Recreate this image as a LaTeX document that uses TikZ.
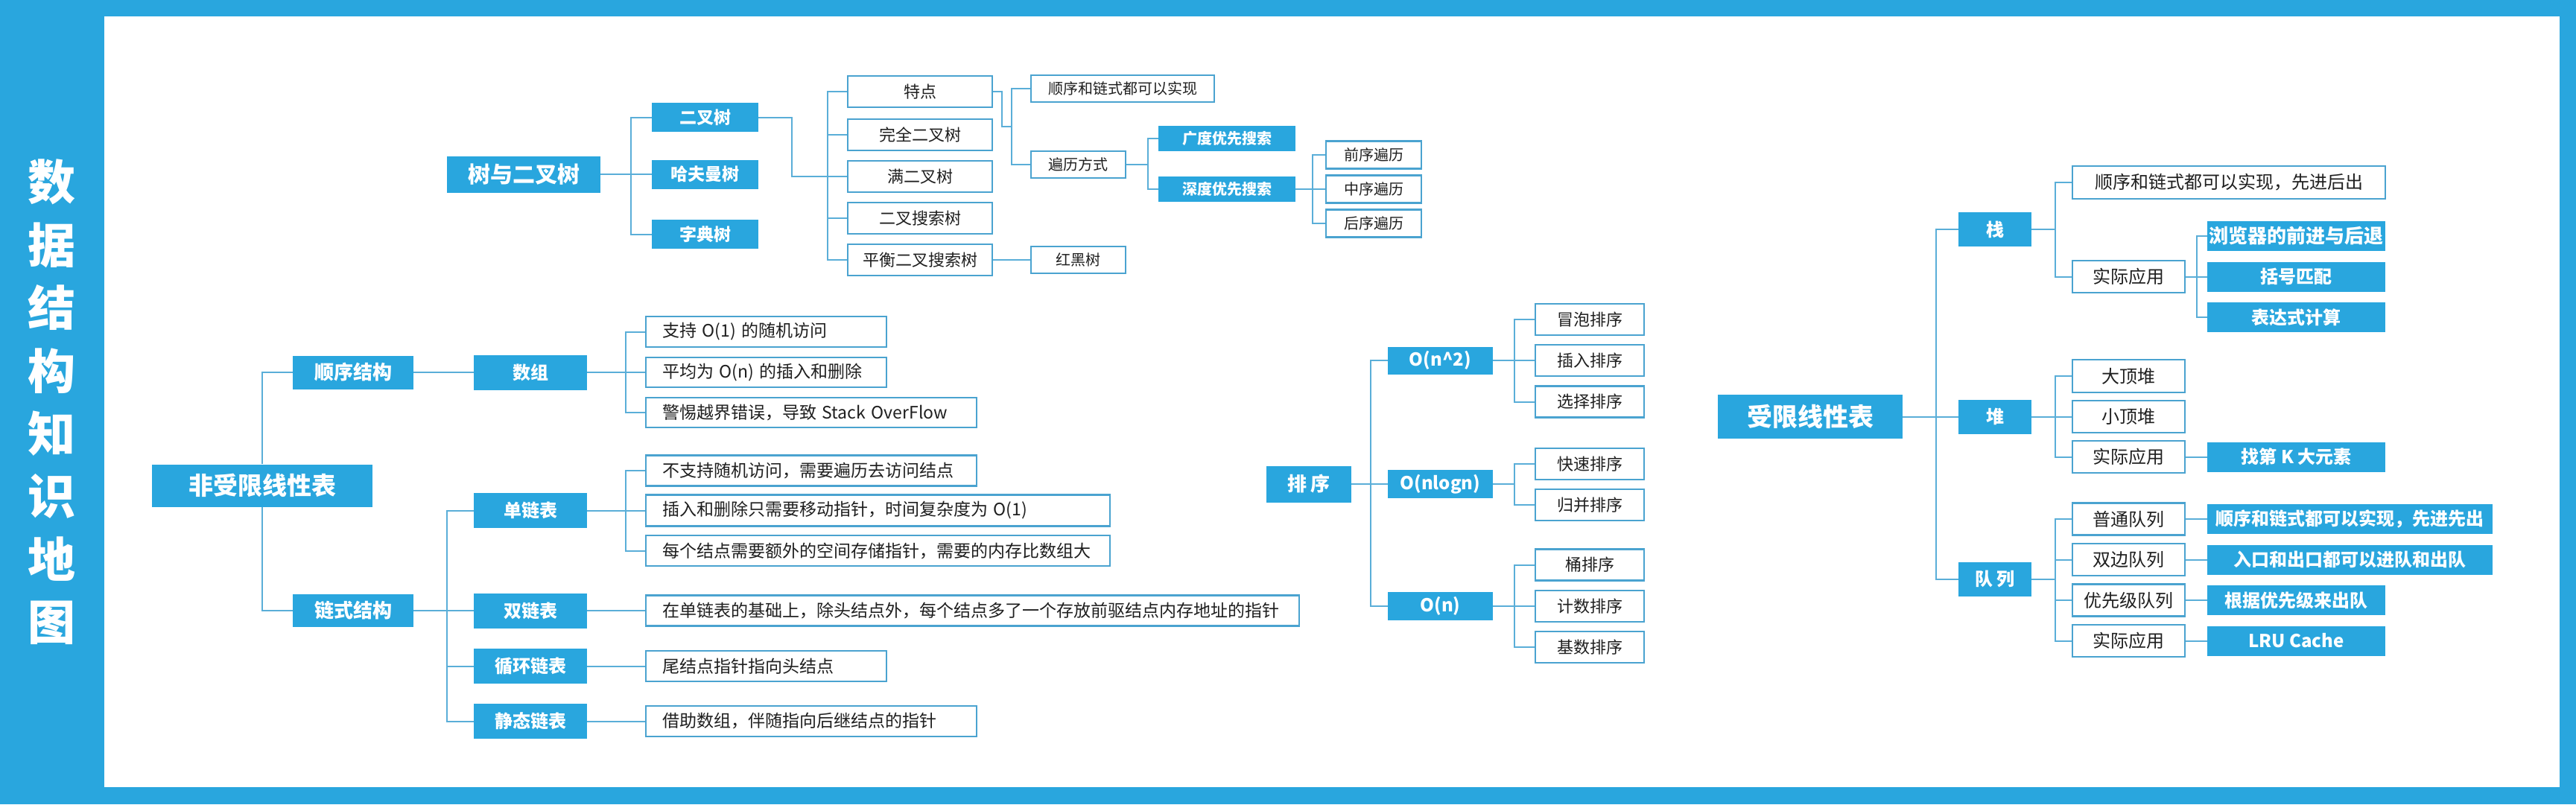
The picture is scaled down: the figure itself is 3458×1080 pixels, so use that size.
\documentclass[tikz,border=0pt]{standalone}
\usepackage{fontspec}
\newfontfamily\cjk{Noto Sans CJK SC}
\pgfdeclarelayer{bg}
\pgfdeclarelayer{lines}
\pgfsetlayers{bg,lines,main}
\definecolor{mblue}{HTML}{29A6DE}
\definecolor{cline}{HTML}{5AAED8}
\definecolor{bline}{HTML}{4AA3D0}
\newcommand\myfs[1]{\fontsize{#1bp}{#1bp}\selectfont}
\tikzset{
  sz/.style 2 args={minimum width=#1bp, minimum height=#2bp},
  fb/.style={fill=mblue, text=white, inner sep=0pt, font=\cjk\bfseries\myfs{#1}},
  wb/.style={draw=bline, line width=2.2bp, fill=white, text=black!88, inner sep=0pt, font=\cjk\myfs{#1}},
  wl/.style={wb=#1, align=left, inner xsep=22bp},
  con/.style={draw=cline, line width=2bp},
}
\begin{document}
\begin{tikzpicture}[x=1bp,y=-1bp]
\begin{pgfonlayer}{bg}
\fill[mblue] (0,0) rectangle (3458,1080);
\fill[white] (140,22) rectangle (3436,1057);
\end{pgfonlayer}
\useasboundingbox (0,0) rectangle (3458,1080);

% title
\node[text=white, inner sep=0pt, align=center, font=\cjk\bfseries\fontsize{64bp}{84.4bp}\selectfont] (title) at (69,540) {数\\据\\结\\构\\知\\识\\地\\图};

% ---------- non-restricted linear list ----------
\node[fb=33, sz={296}{57}] (root1) at (352,652) {非受限线性表};
\node[fb=26, sz={162}{45}] (seq) at (474,500) {顺序结构};
\node[fb=26, sz={162}{44}] (link) at (474,820) {链式结构};
\node[fb=24, sz={152}{47}] (arr) at (712,500) {数组};
\node[fb=24, sz={152}{47}] (sll) at (712,685.5) {单链表};
\node[fb=24, sz={152}{47}] (dll) at (712,820) {双链表};
\node[fb=24, sz={152}{47}] (cll) at (712,894.5) {循环链表};
\node[fb=24, sz={152}{47}] (stl) at (712,968.5) {静态链表};

\node[wl=23, sz={323}{41}, text width=279bp] (a1) at (1028.5,445.5) {支持 O(1) 的随机访问};
\node[wl=23, sz={323}{40}, text width=279bp] (a2) at (1028.5,500) {平均为 O(n) 的插入和删除};
\node[wl=23, sz={444}{40}, text width=400bp] (a3) at (1089,554) {警惕越界错误，导致 Stack OverFlow};
\node[wl=23, sz={444}{41}, text width=400bp] (s1) at (1089,632) {不支持随机访问，需要遍历去访问结点};
\node[wl=23, sz={623}{42}, text width=579bp] (s2) at (1178.5,685.5) {插入和删除只需要移动指针，时间复杂度为 O(1)};
\node[wl=23, sz={623}{41}, text width=579bp] (s3) at (1178.5,739.5) {每个结点需要额外的空间存储指针，需要的内存比数组大};
\node[wl=23, sz={877}{41}, text width=833bp] (d1) at (1305.5,820) {在单链表的基础上，除头结点外，每个结点多了一个存放前驱结点内存地址的指针};
\node[wl=23, sz={323}{41}, text width=279bp] (c1) at (1028.5,894.5) {尾结点指针指向头结点};
\node[wl=23, sz={444}{41}, text width=400bp] (t1) at (1089,968.5) {借助数组，伴随指向后继结点的指针};

% ---------- trees ----------
\node[fb=30, sz={206}{49}] (tree) at (703,234) {树与二叉树};
\node[fb=23, sz={143}{39}] (bt) at (946.5,157.5) {二叉树};
\node[fb=23, sz={143}{39}] (huff) at (946.5,234) {哈夫曼树};
\node[fb=23, sz={143}{39}] (trie) at (946.5,314.5) {字典树};
\node[wb=22, sz={194}{42}] (tp) at (1235,123) {特点};
\node[wb=22, sz={194}{42}] (full) at (1235,181) {完全二叉树};
\node[wb=22, sz={194}{42}] (man) at (1235,237) {满二叉树};
\node[wb=22, sz={194}{42}] (bst) at (1235,293) {二叉搜索树};
\node[wb=22, sz={194}{42}] (avl) at (1235,349) {平衡二叉搜索树};
\node[wb=20, sz={246}{36}] (tr1) at (1507,119) {顺序和链式都可以实现};
\node[wb=20, sz={127}{36}] (trav) at (1447.5,221) {遍历方式};
\node[wb=20, sz={127}{36}] (rb) at (1447.5,349) {红黑树};
\node[fb=20, sz={184}{34}] (bfs) at (1647,186) {广度优先搜索};
\node[fb=20, sz={184}{34}] (dfs) at (1647,254) {深度优先搜索};
\node[wb=20, sz={128}{37}] (pre) at (1844,208) {前序遍历};
\node[wb=20, sz={128}{37}] (mid) at (1844,254) {中序遍历};
\node[wb=20, sz={128}{37}] (post) at (1844,300) {后序遍历};

% ---------- sorting ----------
\node[fb=26, sz={114}{49}] (sort) at (1757,650) {排\ 序};
\node[fb=24, sz={141}{37}] (on2) at (1933.5,484) {O(n\textasciicircum 2)};
\node[fb=24, sz={141}{38}] (onlogn) at (1933.5,650) {O(nlogn)};
\node[fb=24, sz={141}{38}] (on) at (1933.5,814) {O(n)};
\node[wb=22, sz={146}{42}] (bub) at (2134,429) {冒泡排序};
\node[wb=22, sz={146}{42}] (ins) at (2134,484) {插入排序};
\node[wb=22, sz={146}{42}] (sel) at (2134,539.5) {选择排序};
\node[wb=22, sz={146}{42}] (qs) at (2134,623) {快速排序};
\node[wb=22, sz={146}{42}] (ms) at (2134,678) {归并排序};
\node[wb=22, sz={146}{42}] (bkt) at (2134,758.5) {桶排序};
\node[wb=22, sz={146}{42}] (cnt) at (2134,814) {计数排序};
\node[wb=22, sz={146}{42}] (rad) at (2134,869) {基数排序};

% ---------- restricted linear list ----------
\node[fb=34, sz={248}{59}] (lim) at (2430,559.5) {受限线性表};
\node[fb=24, sz={98}{46}] (stk) at (2678,308) {栈};
\node[fb=24, sz={98}{46}] (hp) at (2678,559.5) {堆};
\node[fb=24, sz={98}{46}] (que) at (2678,778) {队\ 列};
\node[wb=24, sz={420}{44}] (sk1) at (2992,245) {顺序和链式都可以实现，先进后出};
\node[wb=24, sz={151}{43}] (skapp) at (2857.5,371.5) {实际应用};
\node[fb=26, sz={239}{40}] (browser) at (3082.5,317) {浏览器的前进与后退};
\node[fb=24, sz={239}{40}] (bracket) at (3082.5,371.5) {括号匹配};
\node[fb=24, sz={239}{40}] (expr) at (3082.5,426) {表达式计算};
\node[wb=24, sz={151}{44}] (big) at (2857.5,505) {大顶堆};
\node[wb=24, sz={151}{43}] (small) at (2857.5,559.5) {小顶堆};
\node[wb=24, sz={151}{43}] (hpapp) at (2857.5,613.5) {实际应用};
\node[fb=24, sz={239}{40}] (kth) at (3082.5,613.5) {找第 K 大元素};
\node[wb=24, sz={151}{43}] (q1) at (2857.5,697) {普通队列};
\node[wb=24, sz={151}{43}] (q2) at (2857.5,751.5) {双边队列};
\node[wb=24, sz={151}{43}] (q3) at (2857.5,806) {优先级队列};
\node[wb=24, sz={151}{43}] (qapp) at (2857.5,860.5) {实际应用};
\node[fb=24, sz={383}{40}] (q1r) at (3154.5,697) {顺序和链式都可以实现，先进先出};
\node[fb=24, sz={383}{40}] (q2r) at (3154.5,751.5) {入口和出口都可以进队和出队};
\node[fb=24, sz={239}{40}] (q3r) at (3082.5,806) {根据优先级来出队};
\node[fb=24, sz={239}{40}] (lru) at (3082.5,860.5) {LRU Cache};

% ---------- junctions ----------
\coordinate (jarr) at (840,500);
\coordinate (jlink) at (600,820);
\coordinate (jsll) at (840,685.5);
\coordinate (jtree) at (847,234);
\coordinate (jbt) at (1111,237);
\coordinate (jtp) at (1358,170);
\coordinate (jtrav) at (1541,221);
\coordinate (jdfs) at (1762,254);
\coordinate (jsort) at (1840,650);
\coordinate (jon2) at (2033,484);
\coordinate (jonl) at (2033,650);
\coordinate (jon) at (2033,814);
\coordinate (jlim) at (2599,559.5);
\coordinate (jstk) at (2759,308);
\coordinate (jsk) at (2949,371.5);
\coordinate (jhp) at (2759,559.5);
\coordinate (jque) at (2759,778);

\begin{pgfonlayer}{lines}
% non-restricted
\draw[con] (root1) |- (seq);
\draw[con] (root1) |- (link);
\draw[con] (seq) -- (arr);
\draw[con] (arr.east) -- (jarr);
\foreach \c in {a1,a2,a3} \draw[con] (jarr) |- (\c.west);
\draw[con] (link.east) -- (jlink);
\foreach \c in {sll,dll,cll,stl} \draw[con] (jlink) |- (\c.west);
\draw[con] (sll.east) -- (jsll);
\foreach \c in {s1,s2,s3} \draw[con] (jsll) |- (\c.west);
\draw[con] (dll) -- (d1);
\draw[con] (cll) -- (c1);
\draw[con] (stl) -- (t1);
% trees
\draw[con] (tree.east) -- (jtree);
\foreach \c in {bt,huff,trie} \draw[con] (jtree) |- (\c.west);
\draw[con] (bt.east) -| (1063,237) -- (jbt);
\foreach \c in {tp,full,man,bst,avl} \draw[con] (jbt) |- (\c.west);
\draw[con] (tp.east) -| (1345,170) -- (jtp);
\foreach \c in {tr1,trav} \draw[con] (jtp) |- (\c.west);
\draw[con] (avl) -- (rb);
\draw[con] (trav.east) -- (jtrav);
\foreach \c in {bfs,dfs} \draw[con] (jtrav) |- (\c.west);
\draw[con] (dfs.east) -- (jdfs);
\foreach \c in {pre,mid,post} \draw[con] (jdfs) |- (\c.west);
% sorting
\draw[con] (sort.east) -- (jsort);
\foreach \c in {on2,onlogn,on} \draw[con] (jsort) |- (\c.west);
\draw[con] (on2.east) -- (jon2);
\foreach \c in {bub,ins,sel} \draw[con] (jon2) |- (\c.west);
\draw[con] (onlogn.east) -- (jonl);
\foreach \c in {qs,ms} \draw[con] (jonl) |- (\c.west);
\draw[con] (on.east) -- (jon);
\foreach \c in {bkt,cnt,rad} \draw[con] (jon) |- (\c.west);
% restricted
\draw[con] (lim.east) -- (jlim);
\foreach \c in {stk,hp,que} \draw[con] (jlim) |- (\c.west);
\draw[con] (stk.east) -- (jstk);
\foreach \c in {sk1,skapp} \draw[con] (jstk) |- (\c.west);
\draw[con] (skapp.east) -- (jsk);
\foreach \c in {browser,bracket,expr} \draw[con] (jsk) |- (\c.west);
\draw[con] (hp.east) -- (jhp);
\foreach \c in {big,small,hpapp} \draw[con] (jhp) |- (\c.west);
\draw[con] (hpapp) -- (kth);
\draw[con] (que.east) -- (jque);
\foreach \c in {q1,q2,q3,qapp} \draw[con] (jque) |- (\c.west);
\draw[con] (q1) -- (q1r);
\draw[con] (q2) -- (q2r);
\draw[con] (q3) -- (q3r);
\draw[con] (qapp) -- (lru);
\end{pgfonlayer}
\end{tikzpicture}
\end{document}
